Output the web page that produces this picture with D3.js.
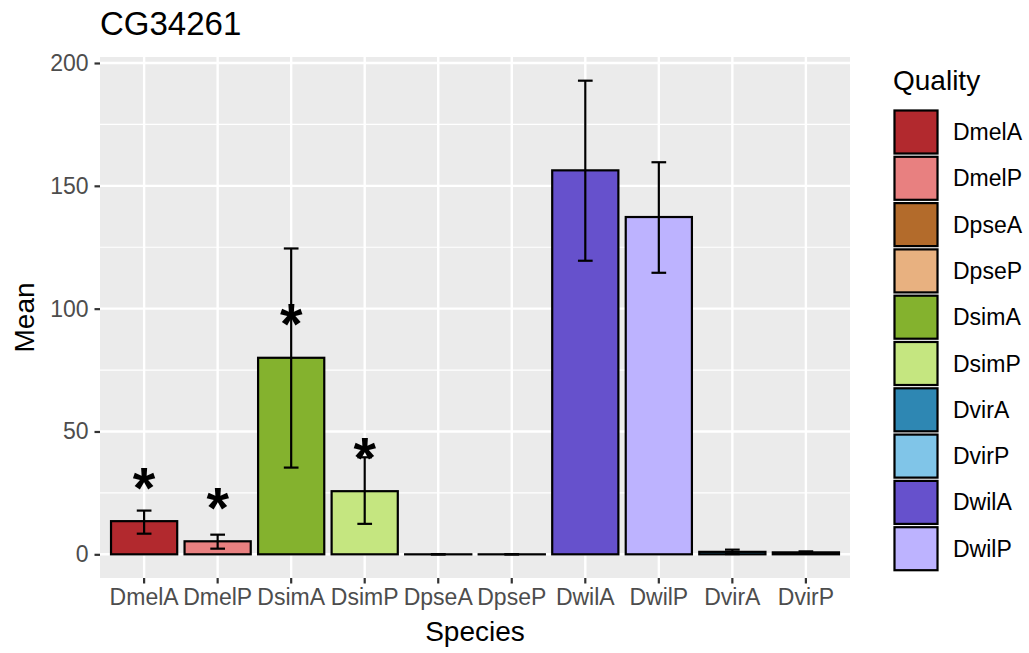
<html>
<head>
<script src="https://d3js.org/d3.v7.min.js"></script>
<style>
  body { margin: 0; background: #fff; }
  text { font-family: "Liberation Sans", Arial, sans-serif; }
</style>
</head>
<body>
<svg width="1029" height="653"></svg>
<script>
// chart values
var species = ["DmelA", "DmelP", "DsimA", "DsimP", "DpseA", "DpseP", "DwilA", "DwilP", "DvirA", "DvirP"];
var means   = [13.5, 5.3, 80, 25.7, 0, 0, 156.3, 137.3, 1.0, 0.8];
var lowers  = [8.4, 2.3, 35.3, 12.4, 0, 0, 119.5, 114.6, 0.1, 0.5];
var uppers  = [17.8, 8.0, 124.5, 39.5, 0, 0, 192.8, 159.6, 1.9, 1.2];
var starred = [true, true, true, true, false, false, false, false, false, false];
var qualities = ["DmelA", "DmelP", "DpseA", "DpseP", "DsimA", "DsimP", "DvirA", "DvirP", "DwilA", "DwilP"];
var colours   = ["#B2292E", "#E88080", "#B36B2B", "#E8B180", "#84B22E", "#C5E680", "#2E87B3", "#80C5E8", "#6651CC", "#BDB3FF"];
var yTicks = [0, 50, 100, 150, 200];
var yMinor = [25, 75, 125, 175];

var FONT = "Liberation Sans, Arial, sans-serif";
var svg = d3.select("svg");
var pLeft = 100, pRight = 850, pTop = 57, pBottom = 578;

var x = d3.scaleBand().domain(species).range([pLeft, pRight]).paddingInner(0).paddingOuter(0.1);
// ggplot-like expansion of 5% around [0, max upper]
var ymax = d3.max(uppers), pad = ymax * 0.05;
var y = d3.scaleLinear().domain([-pad, ymax + pad]).range([pBottom, pTop]);
var fill = d3.scaleOrdinal().domain(qualities).range(colours);

var rows = species.map(function (s, i) {
  return { s: s, m: means[i], lo: lowers[i], hi: uppers[i], star: starred[i] };
});
function cx(d) { return x(d.s) + x.bandwidth() / 2; }

// panel
svg.append("rect").attr("x", pLeft).attr("y", pTop)
  .attr("width", pRight - pLeft).attr("height", pBottom - pTop).attr("fill", "#EBEBEB");

svg.selectAll(".minor").data(yMinor).enter().append("line")
  .attr("x1", pLeft).attr("x2", pRight)
  .attr("y1", function (d) { return y(d); }).attr("y2", function (d) { return y(d); })
  .attr("stroke", "#fff").attr("stroke-width", 1.2);
svg.selectAll(".major").data(yTicks).enter().append("line")
  .attr("x1", pLeft).attr("x2", pRight)
  .attr("y1", function (d) { return y(d); }).attr("y2", function (d) { return y(d); })
  .attr("stroke", "#fff").attr("stroke-width", 2.4);
svg.selectAll(".vgrid").data(species).enter().append("line")
  .attr("y1", pTop).attr("y2", pBottom)
  .attr("x1", function (d) { return x(d) + x.bandwidth() / 2; })
  .attr("x2", function (d) { return x(d) + x.bandwidth() / 2; })
  .attr("stroke", "#fff").attr("stroke-width", 2.4);

// bars (zero-height bars still show their outline as a flat line)
var bw = x.bandwidth() * 0.9;
svg.selectAll(".bar").data(rows).enter().append("rect")
  .attr("x", function (d) { return x(d.s) + (x.bandwidth() - bw) / 2; })
  .attr("y", function (d) { return y(d.m); })
  .attr("width", bw)
  .attr("height", function (d) { return Math.max(y(0) - y(d.m), 0.05); })
  .attr("fill", function (d) { return fill(d.s); })
  .attr("stroke", "#000").attr("stroke-width", 2.2);

// error bars
var cap = x.bandwidth() * 0.2;
var eb = svg.selectAll(".err").data(rows).enter().append("g")
  .attr("stroke", "#000").attr("stroke-width", 2.2);
eb.append("line")
  .attr("x1", cx).attr("x2", cx)
  .attr("y1", function (d) { return y(d.lo); }).attr("y2", function (d) { return y(d.hi); });
eb.append("line")
  .attr("x1", function (d) { return cx(d) - cap / 2; })
  .attr("x2", function (d) { return cx(d) + cap / 2; })
  .attr("y1", function (d) { return y(d.lo); }).attr("y2", function (d) { return y(d.lo); });
eb.append("line")
  .attr("x1", function (d) { return cx(d) - cap / 2; })
  .attr("x2", function (d) { return cx(d) + cap / 2; })
  .attr("y1", function (d) { return y(d.hi); }).attr("y2", function (d) { return y(d.hi); });

// asterisks: size the glyph so its ink is ~22px tall, centred above the bar
var ctx = document.createElement("canvas").getContext("2d");
ctx.font = "bold 100px " + FONT;
var mt = ctx.measureText("*");
var inkH = (mt.actualBoundingBoxAscent + mt.actualBoundingBoxDescent) || 30;
var starSize = 22 / inkH * 100;
var inkMid = (mt.actualBoundingBoxAscent - mt.actualBoundingBoxDescent) / 2 / 100 * starSize;
svg.selectAll(".star").data(rows.filter(function (d) { return d.star; })).enter().append("text")
  .attr("x", cx)
  .attr("y", function (d) { return y(d.m + 17.3) + inkMid; })
  .attr("text-anchor", "middle").attr("font-size", starSize).attr("font-weight", "bold")
  .text("*");

// axes
var xAxis = svg.append("g").attr("transform", "translate(0," + pBottom + ")")
  .call(d3.axisBottom(x).tickSize(5.5).tickPadding(5));
var yAxis = svg.append("g").attr("transform", "translate(" + pLeft + ",0)")
  .call(d3.axisLeft(y).tickValues(yTicks).tickSize(5.5).tickPadding(6));
[xAxis, yAxis].forEach(function (a) {
  a.select(".domain").remove();
  a.selectAll(".tick line").attr("stroke", "#333").attr("stroke-width", 2.2);
  a.selectAll(".tick text").attr("fill", "#4D4D4D").attr("font-size", 23)
    .attr("font-family", FONT);
});

// titles
svg.append("text").attr("x", 100).attr("y", 35).attr("font-size", 33).text("CG34261");
svg.append("text").attr("x", (pLeft + pRight) / 2).attr("y", 641)
  .attr("text-anchor", "middle").attr("font-size", 28).text("Species");
svg.append("text").attr("transform", "translate(34," + ((pTop + pBottom) / 2) + ") rotate(-90)")
  .attr("text-anchor", "middle").attr("font-size", 28).text("Mean");

// legend
var lg = svg.append("g").attr("transform", "translate(893,0)");
lg.append("text").attr("x", 0).attr("y", 90).attr("font-size", 28).text("Quality");
var item = lg.selectAll(".key").data(qualities).enter().append("g")
  .attr("transform", function (d, i) { return "translate(0," + (109 + i * 46.3) + ")"; });
item.append("rect").attr("width", 46).attr("height", 46).attr("fill", "#F2F2F2");
item.append("rect").attr("x", 1.5).attr("y", 1.5).attr("width", 43).attr("height", 43)
  .attr("fill", function (d) { return fill(d); }).attr("stroke", "#000").attr("stroke-width", 2.2);
item.append("text").attr("x", 60).attr("y", 31).attr("font-size", 23).text(function (d) { return d; });
</script>
</body>
</html>
